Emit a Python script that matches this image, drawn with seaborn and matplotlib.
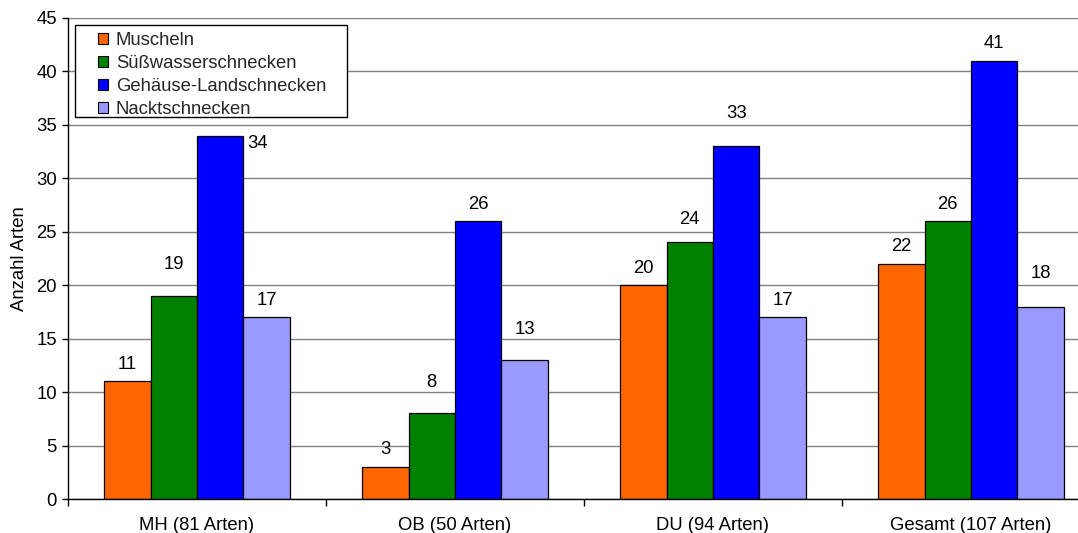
import matplotlib
matplotlib.use("Agg")
import matplotlib.pyplot as plt
from matplotlib.patches import Patch, Rectangle
import seaborn as sns
import pandas as pd

# Species counts per area and snail/mussel group
areas = ["MH (81 Arten)", "OB (50 Arten)", "DU (94 Arten)", "Gesamt (107 Arten)"]
groups = ["Muscheln", "Süßwasserschnecken", "Gehäuse-Landschnecken", "Nacktschnecken"]
muscheln = [11, 3, 20, 22]
suesswasser = [19, 8, 24, 26]
gehaeuse = [34, 26, 33, 41]
nackt = [17, 13, 17, 18]
y_ticks = [0, 5, 10, 15, 20, 25, 30, 35, 40, 45]

colors = ["#FF6600", "#008000", "#0000FF", "#9999FF"]

# Value label placement (pixels, relative to the bar top centre)
label_dx = [[0, 0, 0, 0], [0, 0, 0, 0], [37, 0, 0, 0], [0, 0, 0, 0]]
label_dy = [[17, 17, 17, 17], [31, 31, 23, 17], [-8, 17, 33, 17], [17, 31, 17, 33]]

series = [muscheln, suesswasser, gehaeuse, nackt]
df = pd.DataFrame({
    "Gebiet": [a for s in series for a in areas],
    "Gruppe": [g for g, s in zip(groups, series) for _ in s],
    "Arten": [v for s in series for v in s],
})

sns.set_theme(style="white")
plt.rcParams["font.family"] = ["Liberation Sans", "DejaVu Sans"]
FS = 13.3

W, H = 1078, 533
fig = plt.figure(figsize=(W / 100, H / 100), dpi=100)
ax = fig.add_axes([68 / W, 1 - 499 / H, (1100 - 68) / W, (499 - 18) / H])

sns.barplot(data=df, x="Gebiet", y="Arten", hue="Gruppe", order=areas,
            hue_order=groups, palette=colors, width=0.72, saturation=1,
            edgecolor="black", linewidth=0.9, legend=False, ax=ax)

for gi, cont in enumerate(ax.containers):
    for ci, bar in enumerate(cont):
        val = series[gi][ci]
        ax.annotate(f"{val}", (bar.get_x() + bar.get_width() / 2, bar.get_height()),
                    xytext=(label_dx[gi][ci], label_dy[gi][ci]),
                    textcoords="offset pixels", ha="center", va="center",
                    fontsize=FS, color="black")

ax.set_ylim(0, 45)
ax.set_xlim(-0.5, len(areas) - 0.5)
ax.set_yticks(y_ticks)
ax.set_yticklabels([str(t) for t in y_ticks], fontsize=FS, color="black")
ax.yaxis.grid(True, color="#808080", linewidth=1)
ax.set_axisbelow(True)

# Category ticks sit between the groups; labels at the group centres
ax.set_xticks(range(len(areas)))
ax.set_xticklabels(areas, fontsize=FS, color="black")
ax.set_xticks([i - 0.5 for i in range(len(areas) + 1)], minor=True)
ax.tick_params(axis="x", which="major", length=0, pad=13)
ax.tick_params(axis="x", which="minor", length=5, width=1, color="black", direction="out", bottom=True)
ax.tick_params(axis="y", which="major", length=4, width=1, color="black", direction="out", left=True, pad=4)

ax.set_xlabel("")
ax.set_ylabel("Anzahl Arten", fontsize=FS, color="black", labelpad=6)

for side in ["top", "right"]:
    ax.spines[side].set_visible(False)
for side in ["left", "bottom"]:
    ax.spines[side].set_color("black")
    ax.spines[side].set_linewidth(1)

handles = [Patch(facecolor=c, edgecolor="black", linewidth=0.8) for c in colors]
leg = fig.legend(handles, groups, loc="upper left",
                 bbox_to_anchor=(98 / W, 1 - 32 / H), bbox_transform=fig.transFigure,
                 frameon=False, fontsize=FS, handlelength=0.55, handleheight=0.55,
                 handletextpad=0.42, labelspacing=0.33, borderpad=0, borderaxespad=0)
fig.patches.append(Rectangle((75 / W, 1 - 117 / H), (347 - 75) / W, (117 - 25) / H,
                             transform=fig.transFigure, facecolor="white",
                             edgecolor="black", linewidth=1, zorder=2))
leg.set_zorder(3)

fig.savefig("out.png", dpi=100)
